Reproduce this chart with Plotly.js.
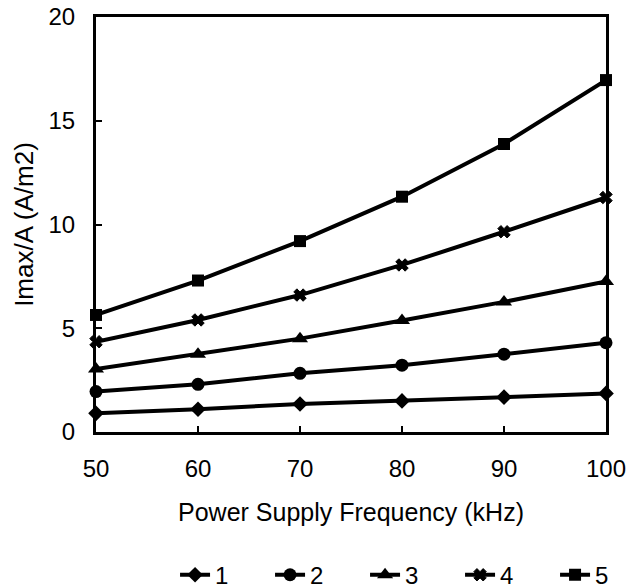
<!DOCTYPE html>
<html>
<head>
<meta charset="utf-8">
<script src="https://cdn.plot.ly/plotly-3.0.1.min.js"></script>
<style>html,body{margin:0;padding:0;background:#fff;}#chart{width:629px;height:588px;}</style>
</head>
<body>
<div id="chart"></div>
<script>
const frequency = [50, 60, 70, 80, 90, 100];
const series1 = [0.9, 1.1, 1.35, 1.5, 1.68, 1.86];
const series2 = [1.95, 2.3, 2.83, 3.22, 3.75, 4.3];
const series3 = [3.04, 3.75, 4.5, 5.37, 6.27, 7.25];
const series4 = [4.35, 5.4, 6.6, 8.05, 9.65, 11.3];
const series5 = [5.64, 7.3, 9.2, 11.34, 13.88, 16.96];
const seriesNames = ["1", "2", "3", "4", "5"];
const seriesData = [series1, series2, series3, series4, series5];
const markerSymbols = ["diamond", "circle", "triangle-up", "x", "square"];
const markerSizes = [12, 13, 14, 11, 12];

const traces = seriesData.map((ys, i) => ({
  x: frequency,
  y: ys,
  name: seriesNames[i],
  type: "scatter",
  mode: "lines+markers",
  line: {color: "#000", width: 4},
  marker: {color: "#000", symbol: markerSymbols[i], size: markerSizes[i], line: {color: "#000", width: i === 3 ? 1 : 0}},
  cliponaxis: false
}));

const font = {family: "Liberation Sans, Arial, Helvetica, sans-serif", color: "#000", size: 24};

const layout = {
  width: 629, height: 588,
  margin: {l: 96, r: 23, t: 17, b: 156, autoexpand: false},
  paper_bgcolor: "#fff", plot_bgcolor: "#fff",
  font: font,
  showlegend: true,
  legend: {orientation: "h", x: 0.155, xanchor: "left", y: -0.345, yanchor: "middle", font: {size: 24},
           traceorder: "normal", entrywidth: 50, entrywidthmode: "pixels", itemsizing: "trace"},
  xaxis: {
    range: [50, 100], tickvals: frequency, ticks: "inside", ticklen: 6, tickwidth: 2, tickcolor: "#000",
    showgrid: false, zeroline: false, showline: true, linecolor: "#000", linewidth: 3, mirror: true,
    ticklabelstandoff: 13, tickfont: {size: 24},
    title: {text: "Power Supply Frequency (kHz)", standoff: 23, font: {size: 25}}
  },
  yaxis: {
    range: [0, 20], tickvals: [0, 5, 10, 15, 20], ticks: "inside", ticklen: 6, tickwidth: 2, tickcolor: "#000",
    showgrid: false, zeroline: false, showline: true, linecolor: "#000", linewidth: 3, mirror: true,
    ticklabelstandoff: 13, tickfont: {size: 24},
    title: {text: "Imax/A (A/m2)", standoff: 8, font: {size: 26}}
  }
};

Plotly.newPlot("chart", traces, layout, {displayModeBar: false, staticPlot: true});
</script>
</body>
</html>
